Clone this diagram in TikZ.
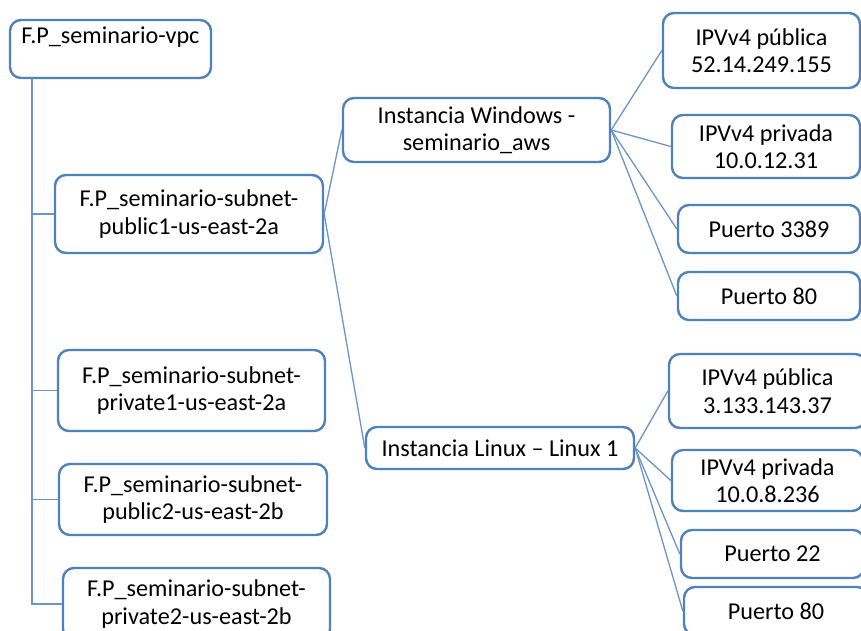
\documentclass[tikz,border=0pt]{standalone}
\usepackage{fontspec}
\setmainfont{Carlito}
\usetikzlibrary{positioning}
\definecolor{boxblue}{HTML}{4F81BD}
\definecolor{linkblue}{HTML}{6A95C9}

\begin{document}
\begin{tikzpicture}[
			x = 1pt, y = -1pt,
			every node/.style = {font = \fontsize{24.2}{27.5}\selectfont, align = center},
			box/.style = {draw = boxblue, line width = 2.4pt, rounded corners = 11pt, fill = white,
				inner sep = 0pt, text = black},
			link/.style = {draw = linkblue, line width = 1.3pt}]

			\useasboundingbox (0,0) rectangle (861,630);
			\clip (0,0) rectangle (861,630);

			\node[box, minimum width = 201, minimum height = 58] (vpc) at (110.5,49) {F.P\_seminario-vpc\\~};

			\node[box, minimum width = 268, minimum height = 78] (pub1) at (189,214) {F.P\_seminario-subnet-\\public1-us-east-2a};
			\node[box, minimum width = 267, minimum height = 81] (priv1) at (191.5,390.5) {F.P\_seminario-subnet-\\private1-us-east-2a};
			\node[box, minimum width = 268, minimum height = 71] (pub2) at (193,499.5) {F.P\_seminario-subnet-\\public2-us-east-2b};
			\node[box, minimum width = 267, minimum height = 72] (priv2) at (196.5,604) {F.P\_seminario-subnet-\\private2-us-east-2b};

			\node[box, minimum width = 267, minimum height = 64] (win) at (476.5,130) {Instancia Windows -\\seminario\_aws};
			\node[box, minimum width = 268, minimum height = 42] (lnx) at (500,448) {Instancia Linux – Linux 1};

			\node[box, minimum width = 197, minimum height = 75] (winpub) at (761.5,50.5) {IPVv4 pública\\52.14.249.155};
			\node[box, minimum width = 188, minimum height = 63] (winpriv) at (766,146.5) {IPVv4 privada\\10.0.12.31};
			\node[box, minimum width = 182, minimum height = 48] (winrdp) at (769,229) {Puerto 3389};
			\node[box, minimum width = 182, minimum height = 48] (winhttp) at (769,296) {Puerto 80};

			\node[box, minimum width = 197, minimum height = 74] (lnxpub) at (767.5,391) {IPVv4 pública\\3.133.143.37};
			\node[box, minimum width = 191, minimum height = 61] (lnxpriv) at (767.5,480.5) {IPVv4 privada\\10.0.8.236};
			\node[box, minimum width = 183, minimum height = 48] (lnxssh) at (772.5,554) {Puerto 22};
			\node[box, minimum width = 184, minimum height = 48] (lnxhttp) at (776,611) {Puerto 80};

			\coordinate (trunk) at (32,78);
			\draw[link] (trunk) |- (priv2.west);
			\foreach \n in {pub1,priv1,pub2}
				\draw[link] (trunk |- \n.west) -- (\n.west);

			\draw[link] (win.west) -- (pub1.east) -- (lnx.west);

			\foreach \n in {winpub,winpriv,winrdp,winhttp}
				\draw[link] (win.east) -- (\n.west);
			\foreach \n in {lnxpub,lnxpriv,lnxssh,lnxhttp}
				\draw[link] (lnx.east) -- (\n.west);

		\end{tikzpicture}
\end{document}
